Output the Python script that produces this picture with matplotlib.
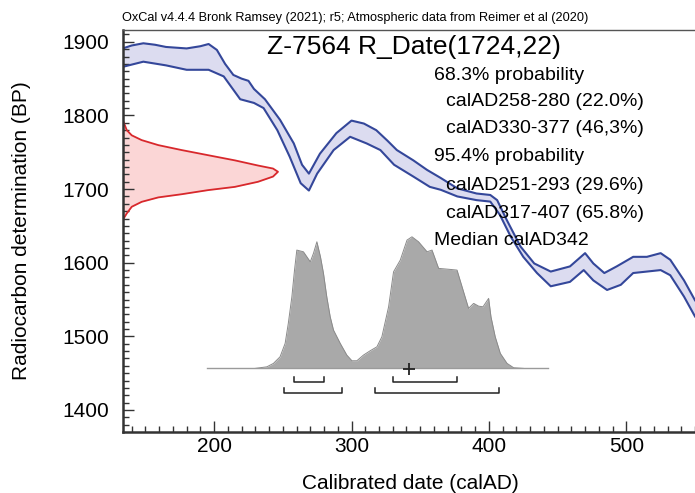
import numpy as np
import matplotlib
matplotlib.use("Agg")
import matplotlib.pyplot as plt
from matplotlib.ticker import MultipleLocator

plt.rcParams['font.family'] = ['Liberation Sans', 'DejaVu Sans']

# calibration curve (IntCal20 band), upper and lower edges
curve_up_x = [133.5, 140, 148.5, 157, 165, 180, 190, 196, 202, 208, 214, 220, 225, 229, 237, 248,
              258, 264, 269, 277, 289, 300, 309, 318, 326, 333, 345, 355, 365, 377, 391, 401,
              406, 413, 423, 433, 445, 459, 470, 476, 484, 493, 505, 515, 525, 532, 542, 550]
curve_up_y = [1891, 1895, 1898, 1896, 1893, 1891, 1894, 1897, 1889, 1870, 1855, 1850, 1847, 1836, 1822, 1794,
              1762, 1733, 1721, 1748, 1776, 1793, 1789, 1780, 1766, 1753, 1739, 1726, 1715, 1701, 1694, 1692,
              1685, 1658, 1622, 1599, 1588, 1595, 1613, 1599, 1586, 1595, 1608, 1608, 1613, 1604, 1576, 1549]
curve_lo_x = [133.5, 148.5, 165, 180, 196, 207, 219, 229, 236, 246, 255, 263, 269, 275, 287, 299,
              311, 321, 331, 345, 357, 365, 377, 391, 401, 408, 416, 425, 435, 445,
              459, 469, 476, 486, 496, 505, 515, 525, 532, 542, 550]
curve_lo_y = [1866, 1873, 1868, 1862, 1862, 1853, 1822, 1817, 1810, 1780, 1744, 1708, 1698, 1721, 1753, 1771,
              1762, 1753, 1733, 1717, 1703, 1699, 1690, 1685, 1683, 1665, 1635, 1608, 1586, 1568,
              1574, 1590, 1576, 1563, 1570, 1586, 1588, 1590, 1583, 1554, 1527]

# radiocarbon date distribution (relative probability)
red_bp = [1794, 1780, 1773, 1766.5, 1759.7, 1753, 1746, 1739, 1732, 1727.9, 1723.5,
          1717, 1709.9, 1703, 1698.6, 1693, 1688.7, 1682.7, 1676, 1667, 1658]
red_p = [0.0, 0.026, 0.058, 0.122, 0.229, 0.379, 0.55, 0.722, 0.871, 0.968, 1.0,
         0.968, 0.871, 0.722, 0.55, 0.379, 0.229, 0.122, 0.058, 0.026, 0.0]

# calibrated distribution (relative probability)
cal_x = [230, 238.4, 243.2, 248, 251.7, 254, 256.6, 258.5, 260.2, 265, 270, 272.3, 274.8, 277.4, 279.6,
         282, 284.5, 286.9, 291.8, 296.6, 300.3, 303.9, 308.7, 313.6, 318.5, 322.1, 327, 330.6, 335.5,
         340.4, 344, 348.8, 355, 358.6, 363.4, 372, 376.8, 385.2, 388.9, 392.5, 395.7, 399.8, 401.5,
         404.6, 408.3, 413.2, 418, 425]
cal_p = [0.0, 0.012, 0.038, 0.088, 0.19, 0.342, 0.544, 0.745, 0.899, 0.886, 0.81, 0.874, 0.962, 0.848,
         0.722, 0.544, 0.392, 0.291, 0.19, 0.101, 0.058, 0.058, 0.101, 0.134, 0.164, 0.24, 0.468, 0.734,
         0.823, 0.975, 1.0, 0.962, 0.886, 0.899, 0.76, 0.752, 0.747, 0.456, 0.494, 0.473, 0.468, 0.532,
         0.392, 0.24, 0.114, 0.038, 0.005, 0.0]

range68 = [(258, 280), (330, 377)]
range95 = [(251, 293), (317, 407)]
median = 342

lines = [("68.3% probability", 0),
         ("calAD258-280 (22.0%)", 1),
         ("calAD330-377 (46,3%)", 1),
         ("95.4% probability", 0),
         ("calAD251-293 (29.6%)", 1),
         ("calAD317-407 (65.8%)", 1),
         ("Median calAD342", 0)]

xlim = (133.5, 550)
ylim = (1370.5, 1916)
base = 1456.5
cal_scale = 178.7
red_scale = 113

fig = plt.figure(figsize=(6.95, 4.93), dpi=100)
ax = fig.add_axes([0.1766, 0.1243, 0.8234, 0.8148])

# curve band
ax.fill(np.r_[curve_up_x, curve_lo_x[::-1]], np.r_[curve_up_y, curve_lo_y[::-1]],
        color='#dcdcf0', lw=0, zorder=1)
for cx, cy in [(curve_up_x, curve_up_y), (curve_lo_x, curve_lo_y)]:
    ax.plot(cx, cy, color='#34479a', lw=1.5, zorder=2, solid_joinstyle='round')

# radiocarbon date
red_x = xlim[0] + np.array(red_p) * red_scale
ax.fill_betweenx(red_bp, xlim[0], red_x, color='#fbd6d6', lw=0, zorder=1)
ax.plot(red_x, red_bp, color='#d8282c', lw=1.3, zorder=2, solid_joinstyle='round')

# calibrated distribution
cal_y = base + np.array(cal_p) * cal_scale
ax.fill_between(cal_x, base, cal_y, color='#a9a9a9', lw=0, zorder=3)
ax.plot(cal_x, cal_y, color='#8a8a8a', lw=0.7, zorder=3)
ax.plot([195, 443], [base, base], color='#9a9a9a', lw=1.0, zorder=3)

# ranges
for ranges, yy in [(range68, 1438.3), (range95, 1422.6)]:
    for a, b in ranges:
        ax.plot([a, a, b, b], [yy + 7, yy, yy, yy + 7], color='#222222', lw=1.1, zorder=4)
ax.plot(median, base - 1.5, marker='+', ms=9, mew=1.3, color='#222222', zorder=5)

# texts
ax.text(0.509, 0.958, "Z-7564 R_Date(1724,22)", transform=ax.transAxes,
        ha='center', va='center', fontsize=19)
ys = [0.888, 0.823, 0.756, 0.684, 0.612, 0.544, 0.477]
for (t, ind), yy in zip(lines, ys):
    ax.text(0.565 if ind else 0.544, yy, t, transform=ax.transAxes,
            ha='left', va='center', fontsize=14)
fig.text(0.176, 0.963, "OxCal v4.4.4 Bronk Ramsey (2021); r5; Atmospheric data from Reimer et al (2020)",
         ha='left', va='center', fontsize=9.2)

ax.set_xlim(*xlim)
ax.set_ylim(*ylim)
ax.xaxis.set_major_locator(MultipleLocator(100))
ax.xaxis.set_minor_locator(MultipleLocator(10))
ax.yaxis.set_major_locator(MultipleLocator(100))
ax.yaxis.set_minor_locator(MultipleLocator(10))
ax.tick_params(which='both', direction='in', color='#333333', width=1.0, labelsize=15)
ax.tick_params(which='major', length=8)
ax.tick_params(which='minor', length=4)
ax.tick_params(axis='x', pad=4)
ax.tick_params(axis='y', pad=10)
for s in ['left', 'bottom']:
    ax.spines[s].set_linewidth(1.8)
    ax.spines[s].set_color('#333333')
ax.spines['top'].set_linewidth(1.0)
ax.spines['top'].set_color('#555555')
ax.spines['right'].set_visible(False)

ax.set_xlabel("Calibrated date (calAD)", fontsize=15)
ax.set_ylabel("Radiocarbon determination (BP)", fontsize=15)
ax.xaxis.set_label_coords(0.502, -0.106)
ax.yaxis.set_label_coords(-0.16, 0.5)

fig.savefig("out.png", dpi=100)
